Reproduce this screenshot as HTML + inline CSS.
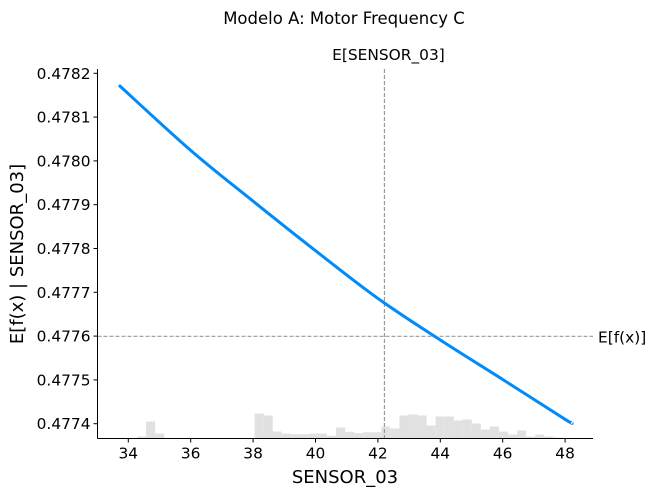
<!DOCTYPE html>
<html><head><meta charset="utf-8"><style>
body{margin:0;background:#fff;}
svg text{font-family:"DejaVu Sans","Liberation Sans",sans-serif;fill:#000;}
</style></head><body>
<svg id="chart" width="655" height="497" viewBox="0 0 655 497" xmlns="http://www.w3.org/2000/svg">
<text x="344" y="24" font-size="16.5" text-anchor="middle">Modelo A: Motor Frequency C</text>
<g id="hist"></g>
<g id="grid"></g>
<g id="line"></g>
<g id="axes"></g>
<text x="0" y="0" font-size="18" text-anchor="middle" transform="translate(23,254) rotate(-90)">E[f(x) | SENSOR_03]</text>
<text x="345" y="483" font-size="18" text-anchor="middle">SENSOR_03</text>
</svg>
<script>
const xVals=[33.7,36,38,40,42,44,46,48,48.2];
const yVals=[0.478173,0.478024,0.477908,0.477795,0.477686,0.477591,0.477501,0.47741,0.477403];
const histCounts=[0,0,2,17,5,0,0,0,0,0,0,0,0,0.5,0.5,25,23,7,5,4.3,4.3,5,5,2.7,11,6.7,5.3,6.3,6.3,12,10,23,24,23,13,22,22,18,19,15,9,12,7,4,8,2,4,2,1,0];
const histStart=33.7, histWidth=0.29;
const xTicks=[34,36,38,40,42,44,46,48];
const yTicks=[0.4774,0.4775,0.4776,0.4777,0.4778,0.4779,0.478,0.4781,0.4782];
const expX=42.21, expY=0.4775995;

const NS="http://www.w3.org/2000/svg";
const L=97.5,R=593,T=69,B=438.5;
const xs=v=>128.3+(v-34)*31.2;
const ys=v=>73.3+(0.4782-v)*438000;
function mk(tag,attrs,parent){const e=document.createElementNS(NS,tag);for(const k in attrs)e.setAttribute(k,attrs[k]);parent.appendChild(e);return e;}
const hist=document.getElementById('hist');
histCounts.forEach((c,i)=>{if(c<=0)return;
 const x0=xs(histStart+i*histWidth),x1=xs(histStart+(i+1)*histWidth);
 const r=mk('rect',{x:x0,y:B-c,width:x1-x0,height:c,fill:'#e1e1e1'},hist);
 
 });
const g=document.getElementById('grid');
const vl=mk('line',{x1:xs(expX),x2:xs(expX),y1:T,y2:B,stroke:'#999','stroke-width':1.2,'stroke-dasharray':'4,2'},g);


const hl=mk('line',{x1:L,x2:R,y1:ys(expY),y2:ys(expY),stroke:'#999','stroke-width':1.2,'stroke-dasharray':'4,2'},g);


const t1=mk('text',{x:xs(expX)+4,y:60,'font-size':15.4,'text-anchor':'middle'},g);t1.textContent='E[SENSOR_03]';


const t2=mk('text',{x:598,y:ys(expY)+6,'font-size':15.4},g);t2.textContent='E[f(x)]';


const ln=document.getElementById('line');
const pts=xVals.map((v,i)=>[xs(v),ys(yVals[i])]);
let d='M'+pts[0][0]+','+pts[0][1];
for(let i=0;i<pts.length-1;i++){
 const p0=pts[Math.max(0,i-1)],p1=pts[i],p2=pts[i+1],p3=pts[Math.min(pts.length-1,i+2)];
 const c1=[p1[0]+(p2[0]-p0[0])/6,p1[1]+(p2[1]-p0[1])/6];
 const c2=[p2[0]-(p3[0]-p1[0])/6,p2[1]-(p3[1]-p1[1])/6];
 d+=' C'+c1+' '+c2+' '+p2;
}
const p=mk('path',{d:d,fill:'none',stroke:'#008bfb','stroke-width':3,'stroke-linecap':'butt'},ln);


const ax=document.getElementById('axes');
mk('line',{x1:L,x2:L,y1:T,y2:B,stroke:'#000','stroke-width':1},ax);
mk('line',{x1:L,x2:R,y1:B,y2:B,stroke:'#000','stroke-width':1},ax);
xTicks.forEach(v=>{const x=xs(v);mk('line',{x1:x,x2:x,y1:B,y2:B+4,stroke:'#000'},ax);
 const t=mk('text',{x:x,y:B+20,'font-size':15.4,'text-anchor':'middle'},ax);t.textContent=v;
 
 });
yTicks.forEach(v=>{const y=ys(v);mk('line',{x1:L-4,x2:L,y1:y,y2:y,stroke:'#000'},ax);
 const t=mk('text',{x:L-7,y:y+5.5,'font-size':15.4,'text-anchor':'end'},ax);t.textContent=v.toFixed(4);
 
 });
</script>
</body></html>
